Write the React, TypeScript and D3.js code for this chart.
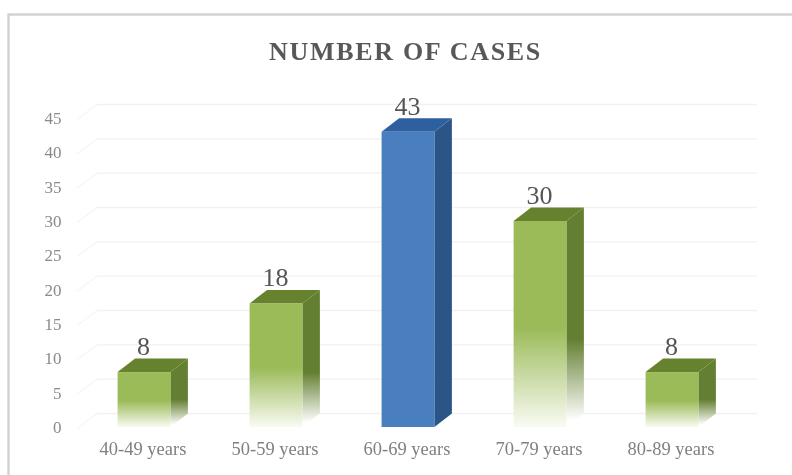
import React from "react";
import * as d3 from "d3";

const categories = ["40-49 years", "50-59 years", "60-69 years", "70-79 years", "80-89 years"];
const cases = [8, 18, 43, 30, 8];
const yTicks = [0, 5, 10, 15, 20, 25, 30, 35, 40, 45];
const highlighted = "60-69 years";

const width = 792;
const height = 475;
// depth of the fake 3d box
const depthX = 17.5;
const depthY = -13.5;

const x = d3.scaleBand<string>().domain(categories).range([78, 738]).paddingInner(0.6).paddingOuter(0.3);
const y = d3.scaleLinear().domain([0, 45]).range([427, 118]);
const serif = "'Liberation Serif', serif";

const App: React.FC = () => {
  const base = y(0);
  return (
    <svg width={width} height={height} style={{ position: "absolute", left: 0, top: 0 }} fontFamily={serif}>
      <defs>
        <linearGradient id="greenFront" x1="0" y1="0" x2="0" y2="1">
          <stop offset="0" stopColor="#9bbb59" />
          <stop offset="0.52" stopColor="#9bbb59" />
          <stop offset="1" stopColor="#f9fbf3" />
        </linearGradient>
        <linearGradient id="greenSide" x1="0" y1="0" x2="0" y2="1">
          <stop offset="0" stopColor="#647f31" />
          <stop offset="0.6" stopColor="#647f31" />
          <stop offset="0.97" stopColor="#ffffff" />
        </linearGradient>
        <filter id="soft" x="-5%" y="-5%" width="110%" height="110%">
          <feGaussianBlur stdDeviation="0.7" />
        </filter>
      </defs>
      <rect width={width} height={height} fill="#ffffff" />
      <g filter="url(#soft)">
        <path d="M8.5,485V14.5H800" fill="none" stroke="#d2d2d2" strokeWidth={2.4} />
        <text x={405.5} y={60} textAnchor="middle" fontSize={26} fontWeight="bold" letterSpacing={1.7} fill="#595959">
          NUMBER OF CASES
        </text>
        {yTicks.map((t) => (
          <g key={t}>
            <path d={`M77,${y(t) + 1.5}L97,${y(t) + depthY}`} fill="none" stroke="#f6f6f6" strokeWidth={1.3} />
            <path d={`M97,${y(t) + depthY}H757`} fill="none" stroke="#f1f1f1" strokeWidth={1.3} />
            <text x={61.5} y={y(t) + 6} textAnchor="end" fontSize={17} fill="#8a8a8a">
              {t}
            </text>
          </g>
        ))}
        {categories.map((c, i) => {
          const x0 = x(c) as number;
          const bw = x.bandwidth();
          const top = y(cases[i]);
          const blue = c === highlighted;
          return (
            <g key={c}>
              <path
                d={`M${x0 + bw},${top}l${depthX},${depthY}V${base + depthY}l${-depthX},${-depthY}Z`}
                fill={blue ? "#2c5487" : "url(#greenSide)"}
              />
              <path
                d={`M${x0},${top}l${depthX},${depthY}h${bw}l${-depthX},${-depthY}Z`}
                fill={blue ? "#2f5f9f" : "#66822f"}
              />
              <rect x={x0} y={top} width={bw} height={base - top} fill={blue ? "#4a7ebf" : "url(#greenFront)"} />
              <text x={x0 + bw / 2 - 0.5} y={top - 17} textAnchor="middle" fontSize={26} fill="#555555">
                {cases[i]}
              </text>
              <text x={x0 + bw / 2 - 1} y={455} textAnchor="middle" fontSize={18.5} fill="#808080">
                {c}
              </text>
            </g>
          );
        })}
      </g>
    </svg>
  );
};

export default App;
